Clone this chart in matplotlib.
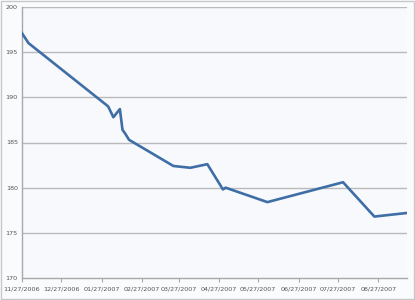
import numpy as np
import matplotlib
matplotlib.use("Agg")
import matplotlib.pyplot as plt
import matplotlib.dates as mdates
import pandas as pd

# data
dates = ["2006-11-27", "2006-12-02", "2007-02-01", "2007-02-05", "2007-02-10",
         "2007-02-12", "2007-02-14", "2007-02-17", "2007-03-23", "2007-04-05",
         "2007-04-18", "2007-04-30", "2007-05-02", "2007-06-03", "2007-07-31",
         "2007-08-24", "2007-09-18"]
values = [197.1, 196.0, 189.0, 187.8, 188.7,
          186.4, 186.0, 185.3, 182.4, 182.2,
          182.6, 179.8, 180.0, 178.4, 180.6,
          176.8, 177.2]
tick_dates = ["2006-11-27", "2006-12-27", "2007-01-27", "2007-02-27", "2007-03-27",
              "2007-04-27", "2007-05-27", "2007-06-27", "2007-07-27", "2007-08-27"]
y_ticks = [170, 175, 180, 185, 190, 195, 200]

x = pd.to_datetime(dates)
xt = pd.to_datetime(tick_dates)

fig = plt.figure(figsize=(4.15, 3.0), dpi=100, facecolor="#fafbfd")
ax = fig.add_axes([22 / 415, 1 - 278 / 300, 385 / 415, 271 / 300])
ax.set_facecolor("#f8f9fc")

for yv in y_ticks[1:]:
    ax.axhline(yv, color="#bababa", lw=1.0, zorder=1)

ax.plot(x, values, color="#3f6ea6", lw=1.9, solid_joinstyle="round", zorder=3)

ax.set_xlim(x[0], x[-1])
ax.set_ylim(170, 200)
ax.set_yticks(y_ticks)
ax.set_xticks(xt)
ax.xaxis.set_major_formatter(mdates.DateFormatter("%m/%d/%Y"))

for s in ["top", "right"]:
    ax.spines[s].set_visible(False)
for s in ["left", "bottom"]:
    ax.spines[s].set_color("#a8a8a8")
    ax.spines[s].set_linewidth(1.0)

ax.tick_params(axis="x", length=3, width=0.8, color="#a8a8a8", labelsize=4.6,
               labelcolor="#555555", pad=3)
ax.tick_params(axis="y", length=0, labelsize=4.6, labelcolor="#555555", pad=3)

# chart border
fig.patches.append(plt.Rectangle((0.002, 0.003), 0.995, 0.994, transform=fig.transFigure,
                                 fill=False, edgecolor="#c8c8c8", lw=1.0))

fig.savefig("out.png", dpi=100, facecolor=fig.get_facecolor())
